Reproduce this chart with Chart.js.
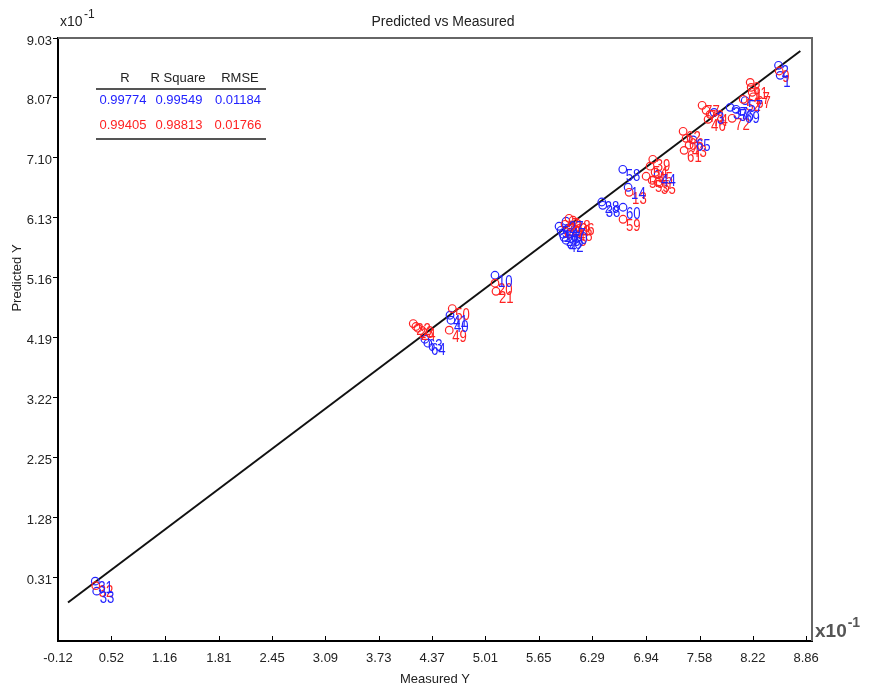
<!DOCTYPE html>
<html>
<head>
<meta charset="utf-8">
<script src="https://cdn.jsdelivr.net/npm/chart.js@4/dist/chart.umd.min.js"></script>
<style>
  html, body { margin: 0; padding: 0; background: #ffffff; }
  #wrap { width: 873px; height: 685px; position: relative; }
</style>
</head>
<body>
<div id="wrap"><canvas id="c" width="873" height="685"></canvas></div>
<script>
// ---- Data (units of x10^-1) ----
const xTickLabels = ["-0.12","0.52","1.16","1.81","2.45","3.09","3.73","4.37","5.01","5.65","6.29","6.94","7.58","8.22","8.86"];
const yTickLabels = ["0.31","1.28","2.25","3.22","4.19","5.16","6.13","7.10","8.07","9.03"];

const blueIds = ["31","33","63","64","41","40","10","27","5","16","25","36","42","47","70","28","38","60","58","14","44","65","3","37","56","69","57","2","1"];
const blueX   = [0.327,0.345,4.284,4.320,4.585,4.597,5.125,5.978,5.894,5.918,5.942,5.954,5.978,6.002,6.026,6.407,6.419,6.662,6.659,6.723,7.083,7.502,7.755,7.947,8.019,8.091,8.128,8.528,8.548];
const blueY   = [0.257,0.095,4.164,4.100,4.552,4.471,5.198,6.070,5.989,5.924,5.860,5.811,5.763,5.957,5.892,6.381,6.328,6.296,6.909,6.619,6.829,7.384,7.829,7.910,7.878,7.846,8.020,8.589,8.427];

const redIds = ["32","22","23","24","50","49","20","21","7","18","26","29","34","48","75","59","13","39","54","53","55","35","45","62","66","43","61","77","73","74","46","52","72","8","11","17","67","9"];
const redX   = [0.333,4.144,4.176,4.200,4.612,4.576,5.125,5.137,6.014,6.062,6.110,5.966,6.038,6.086,6.014,6.662,6.735,7.019,6.987,6.939,7.011,7.083,7.047,7.383,7.419,7.455,7.395,7.611,7.659,7.707,7.683,8.104,7.971,8.188,8.200,8.212,8.224,8.536];
const redY   = [0.184,4.418,4.370,4.342,4.660,4.310,5.069,4.939,6.118,6.086,6.037,6.021,5.989,5.941,5.860,6.102,6.538,7.071,6.959,6.797,6.732,6.700,6.861,7.523,7.410,7.300,7.215,7.943,7.862,7.797,7.717,8.040,7.733,8.314,8.233,8.153,8.080,8.497];

const lineX = [0.00, 8.79];
const lineY = [-0.087, 8.82];

const statHeaders = ["R","R Square","RMSE"];
const blueStats = ["0.99774","0.99549","0.01184"];
const redStats  = ["0.99405","0.98813","0.01766"];

const BLUE = "#2222ff";
const RED  = "#ff2222";
const FONT = '"Liberation Sans", Arial, sans-serif';

function pts(xs, ys) { return xs.map((x, i) => ({ x: x, y: ys[i] })); }

const extras = {
  id: 'extras',
  afterDatasetsDraw(chart) {
    const ctx = chart.ctx;
    chart.data.datasets.forEach((ds, di) => {
      if (!ds.ids) return;
      const meta = chart.getDatasetMeta(di);
      ctx.save();
      ctx.fillStyle = ds.borderColor;
      ctx.font = '16px ' + FONT;
      ctx.textBaseline = 'middle';
      ctx.textAlign = 'left';
      meta.data.forEach((el, i) => {
        ctx.save();
        ctx.translate(el.x + 3, el.y + 7);
        ctx.scale(0.82, 1);
        ctx.fillText(ds.ids[i], 0, 0);
        ctx.restore();
      });
      ctx.restore();
    });
  },
  afterDraw(chart) {
    const ctx = chart.ctx;
    const a = chart.chartArea;
    const xs = chart.scales.x;
    ctx.save();
    ctx.strokeStyle = '#666666';
    ctx.lineWidth = 2;
    ctx.beginPath();
    ctx.moveTo(a.left, a.top);
    ctx.lineTo(a.right, a.top);
    ctx.lineTo(a.right, a.bottom);
    ctx.stroke();
    ctx.strokeStyle = '#000';
    ctx.lineWidth = 1;
    xs.ticks.forEach(t => {
      const px = Math.round(xs.getPixelForValue(t.value)) + 0.5;
      ctx.beginPath();
      ctx.moveTo(px, a.bottom);
      ctx.lineTo(px, a.bottom - 5);
      ctx.stroke();
    });
    ctx.fillStyle = '#222';
    ctx.font = '14px ' + FONT;
    ctx.textAlign = 'center';
    ctx.textBaseline = 'middle';
    ctx.fillText('Predicted vs Measured', 443, 22);
    ctx.font = '13px ' + FONT;
    ctx.fillText('Measured Y', (a.left + a.right) / 2, 679);
    ctx.save();
    ctx.translate(17, 278);
    ctx.rotate(-Math.PI / 2);
    ctx.fillText('Predicted Y', 0, 0);
    ctx.restore();
    // x10^-1 top-left
    ctx.textAlign = 'left';
    ctx.font = '14px ' + FONT;
    ctx.fillText('x10', 60, 22);
    ctx.font = '12px ' + FONT;
    ctx.fillText('-1', 84, 15);
    // x10^-1 bottom-right
    ctx.fillStyle = '#555';
    ctx.font = 'bold 19px ' + FONT;
    ctx.textBaseline = 'alphabetic';
    ctx.fillText('x10', 815, 637);
    const w = ctx.measureText('x10').width;
    ctx.font = 'bold 14px ' + FONT;
    ctx.fillText('-1', 815 + w + 1, 627);
    // stats table
    const cols = [123, 179, 238];
    ctx.textBaseline = 'middle';
    ctx.textAlign = 'center';
    ctx.font = '13px ' + FONT;
    ctx.fillStyle = '#222';
    statHeaders.forEach((h, i) => ctx.fillText(h, cols[i] + (i === 1 ? -1 : 2), 78));
    ctx.fillStyle = BLUE;
    blueStats.forEach((v, i) => ctx.fillText(v, cols[i], 100));
    ctx.fillStyle = RED;
    redStats.forEach((v, i) => ctx.fillText(v, cols[i], 125));
    ctx.strokeStyle = '#555';
    ctx.lineWidth = 2;
    ctx.beginPath();
    ctx.moveTo(96, 89); ctx.lineTo(266, 89);
    ctx.moveTo(96, 139); ctx.lineTo(266, 139);
    ctx.stroke();
    ctx.restore();
  }
};

new Chart(document.getElementById('c'), {
  type: 'scatter',
  data: {
    datasets: [
      {
        label: 'fit',
        type: 'line',
        data: pts(lineX, lineY),
        borderColor: '#111',
        borderWidth: 2,
        pointRadius: 0,
        fill: false,
        order: 3
      },
      {
        label: 'red',
        ids: redIds,
        data: pts(redX, redY),
        borderColor: RED,
        backgroundColor: 'rgba(0,0,0,0)',
        pointRadius: 3.8,
        borderWidth: 1.2,
        order: 1
      },
      {
        label: 'blue',
        ids: blueIds,
        data: pts(blueX, blueY),
        borderColor: BLUE,
        backgroundColor: 'rgba(0,0,0,0)',
        pointRadius: 3.8,
        borderWidth: 1.2,
        order: 2
      }
    ]
  },
  options: {
    responsive: false,
    animation: false,
    devicePixelRatio: 1,
    layout: { padding: { top: 38, right: 61, left: 0, bottom: 0 } },
    plugins: { legend: { display: false }, tooltip: { enabled: false }, title: { display: false } },
    scales: {
      x: {
        type: 'linear',
        min: -0.12,
        max: 8.93,
        afterBuildTicks: s => { s.ticks = xTickLabels.map(l => ({ value: parseFloat(l) })); },
        afterFit: s => { s.height = 44; },
        ticks: {
          autoSkip: false, maxRotation: 0, padding: 10,
          color: '#222', font: { size: 13, family: FONT },
          callback: (v, i) => xTickLabels[i]
        },
        grid: { display: true, drawOnChartArea: false, drawTicks: false },
        border: { display: true, color: '#000', width: 2 }
      },
      y: {
        type: 'linear',
        min: -0.71,
        max: 9.03,
        afterBuildTicks: s => { s.ticks = yTickLabels.map(l => ({ value: parseFloat(l) })); },
        afterFit: s => { s.width = 58; },
        ticks: {
          autoSkip: false, padding: 1, labelOffset: 3,
          color: '#222', font: { size: 13, family: FONT },
          callback: (v, i) => yTickLabels[i]
        },
        grid: { display: true, drawOnChartArea: false, drawTicks: true, tickLength: 5, color: '#000' },
        border: { display: true, color: '#000', width: 2 }
      }
    }
  },
  plugins: [extras]
});
</script>
</body>
</html>
